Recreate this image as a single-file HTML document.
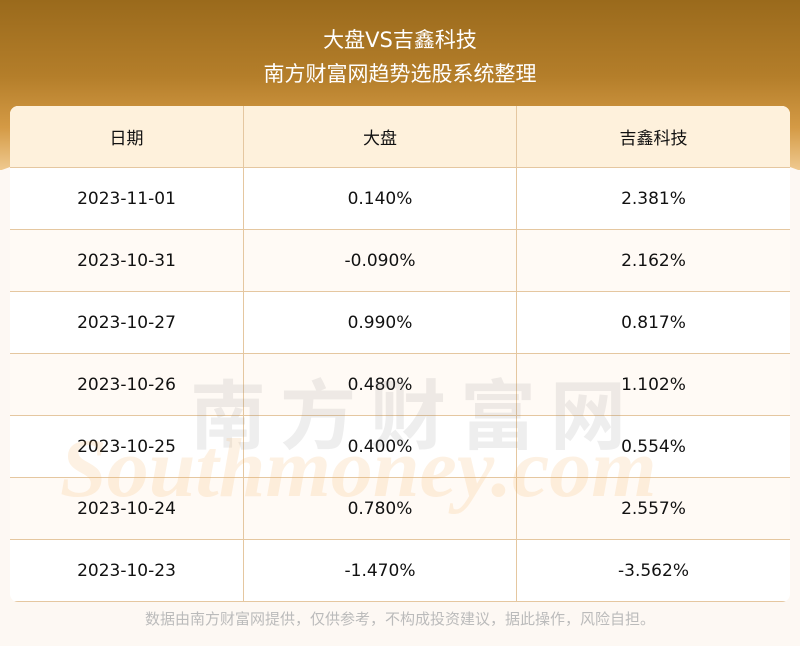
<!DOCTYPE html>
<html><head><meta charset="utf-8"><style>
body{margin:0;width:800px;height:646px;overflow:hidden;background:#fdf8f3;font-family:"DejaVu Sans","Noto Sans CJK SC",sans-serif;position:relative}
.top{position:absolute;left:0;top:0;width:800px;height:170px;background:linear-gradient(180deg,#9a6a1c 0%,#b47e2a 45%,#d49a45 75%,#efc98f 100%)}
.arc{position:absolute;left:-60px;top:120px;width:920px;height:200px;border-radius:50%;background:#fdf8f3}
.t1,.t2{position:absolute;width:800px;text-align:center;color:#fff;font-size:21px}
.t1{top:24px}.t2{top:58px}
table{position:absolute;left:10px;top:106px;width:780px;border-collapse:collapse;background:#fff;border-radius:8px;overflow:hidden}
td{height:61px;border-bottom:1px solid #e5c7a0;text-align:center;font-size:17px;color:#111;padding:0}
td+td{border-left:1px solid #e5c7a0}
tr:first-child td{background:#fef1dc}
tr:nth-child(odd):not(:first-child) td{background:#fffaf5}
.wm{position:absolute;color:rgba(200,160,120,0.15);font-weight:bold;pointer-events:none}
.foot{position:absolute;top:608px;width:800px;text-align:center;color:#bbb;font-size:15px}
</style></head><body>
<div class="top"></div><div class="arc"></div>
<div class="t1">大盘VS吉鑫科技</div>
<div class="t2">南方财富网趋势选股系统整理</div>
<table>
<tr><td style="width:233px">日期</td><td style="width:272px">大盘</td><td>吉鑫科技</td></tr>
<tr><td>2023-11-01</td><td>0.140%</td><td>2.381%</td></tr>
<tr><td>2023-10-31</td><td>-0.090%</td><td>2.162%</td></tr>
<tr><td>2023-10-27</td><td>0.990%</td><td>0.817%</td></tr>
<tr><td>2023-10-26</td><td>0.480%</td><td>1.102%</td></tr>
<tr><td>2023-10-25</td><td>0.400%</td><td>0.554%</td></tr>
<tr><td>2023-10-24</td><td>0.780%</td><td>2.557%</td></tr>
<tr><td>2023-10-23</td><td>-1.470%</td><td>-3.562%</td></tr>
</table>
<div class="wm" style="left:190px;top:355px;font-size:76px;letter-spacing:14px;color:rgba(120,120,120,0.13)">南方财富网</div>
<div class="wm" style="left:60px;top:420px;font-size:84px;font-style:italic;font-family:'Liberation Serif',serif;color:rgba(245,180,100,0.18)">Southmoney.com</div>
<div class="foot">数据由南方财富网提供，仅供参考，不构成投资建议，据此操作，风险自担。</div>
</body></html>
